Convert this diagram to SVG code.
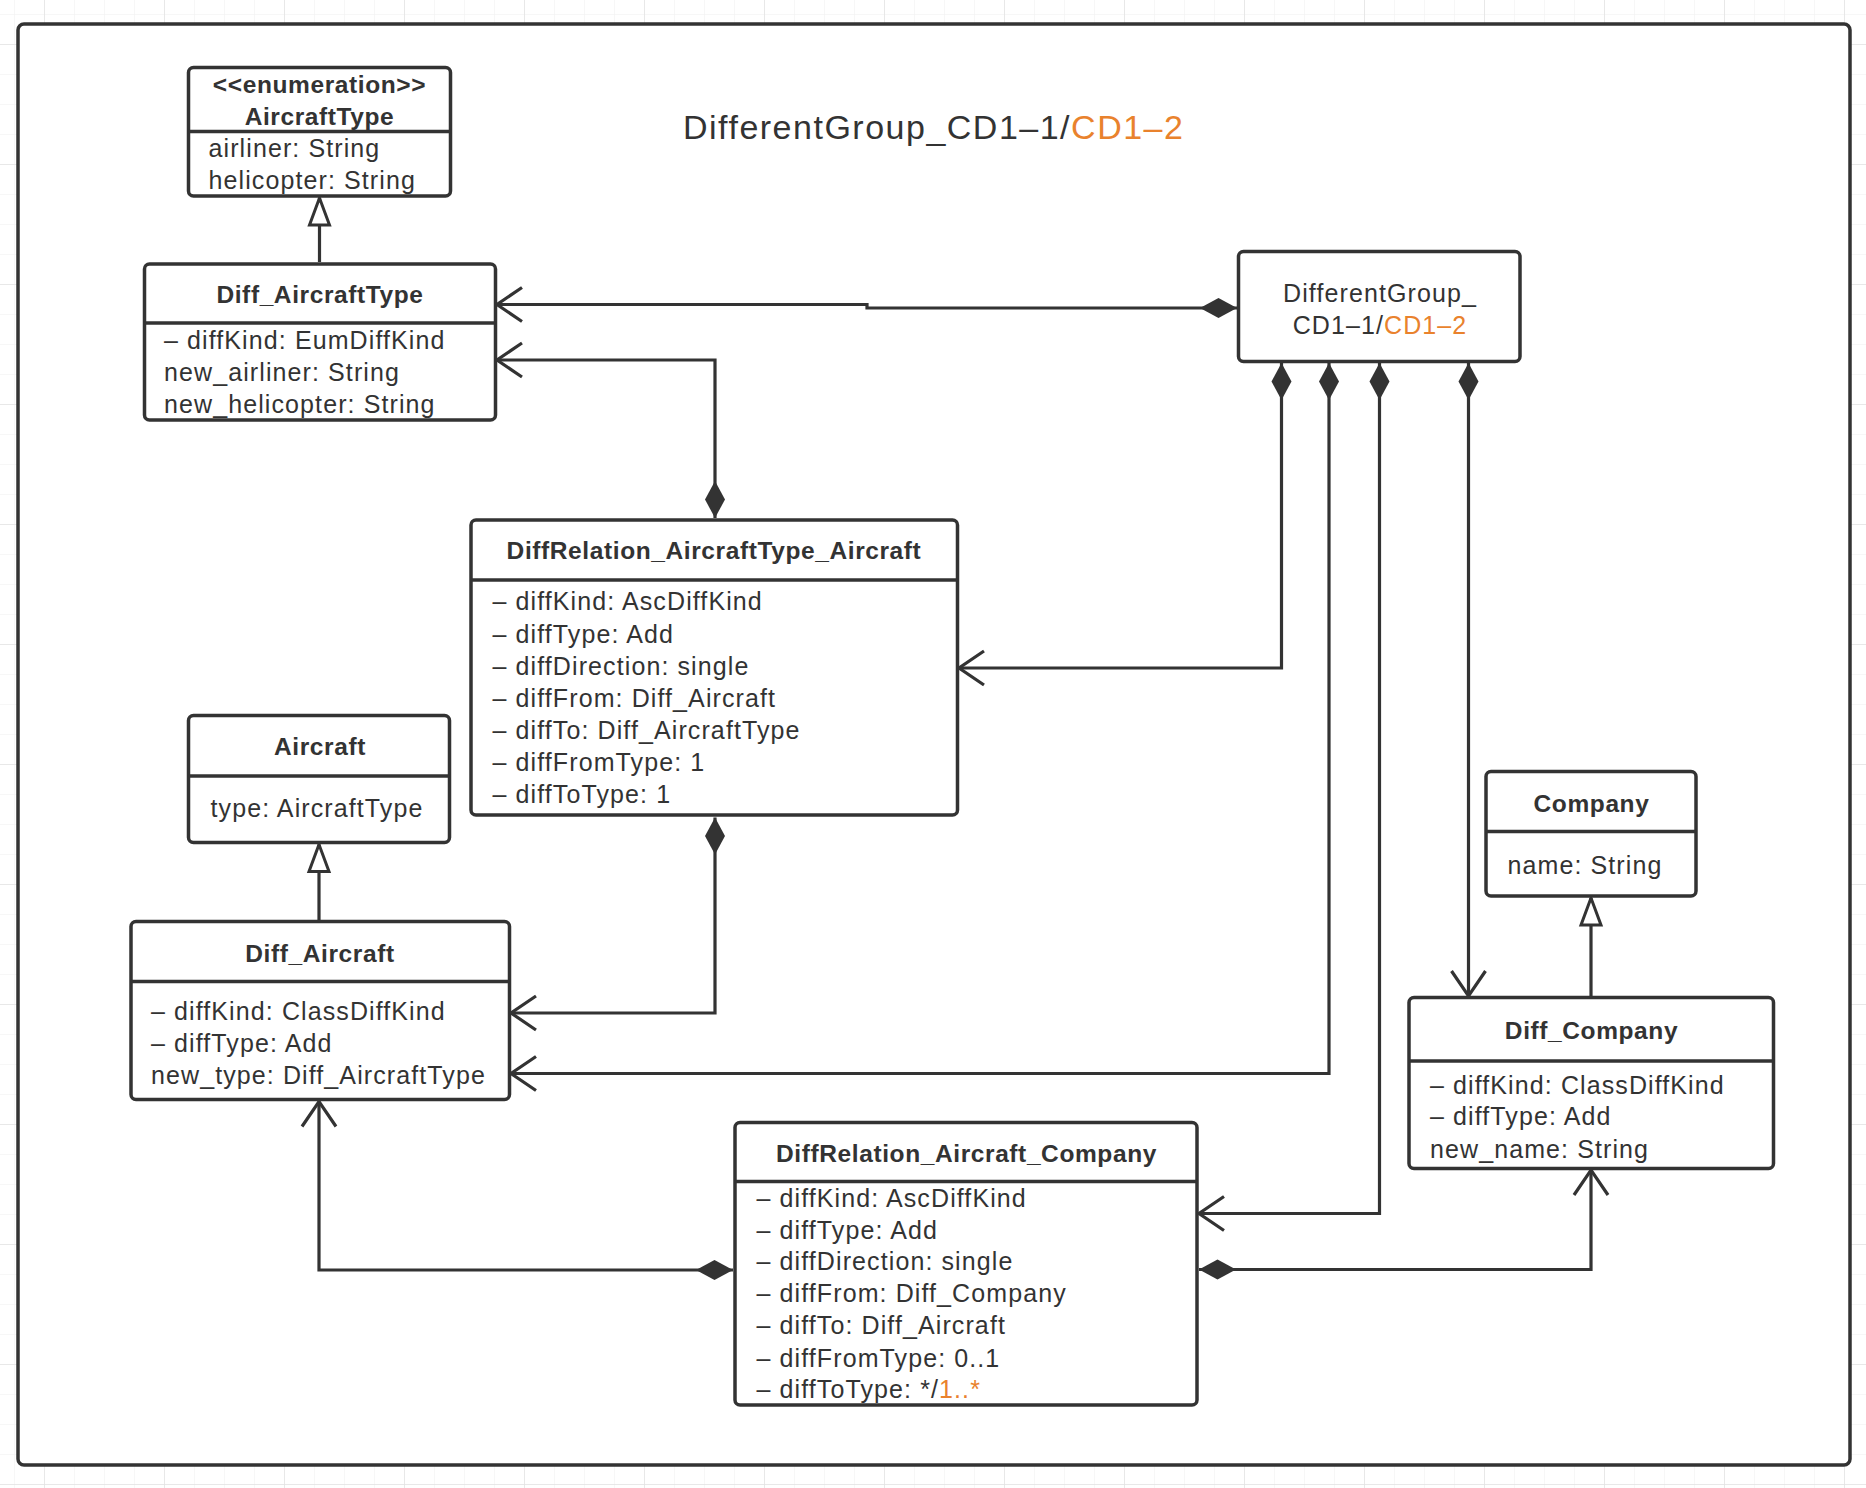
<svg xmlns="http://www.w3.org/2000/svg" width="1866" height="1488" viewBox="0 0 1866 1488">
<defs>
<style>
.box{fill:#fff;stroke:#333;stroke-width:3.5}
.dv{stroke:#333;stroke-width:3.5}
.t{font-family:"Liberation Sans",Arial,sans-serif;font-size:25px;fill:#333;letter-spacing:1.1px}
.b{font-size:24.5px;font-weight:bold;letter-spacing:0.6px;text-anchor:middle}
.c{text-anchor:middle}
.o{fill:#E9822D}
.ln{fill:none;stroke:#333;stroke-width:3.2}
.agg{marker-start:url(#diamond);marker-end:url(#open)}
.gen{marker-end:url(#tri)}
</style>
<pattern id="gridMinor" x="14" y="14" width="30" height="30" patternUnits="userSpaceOnUse">
<path d="M0 0H30M0 0V30" fill="none" stroke="#f0f0f0" stroke-width="1"/>
</pattern>
<pattern id="gridMajor" x="44" y="44" width="120" height="120" patternUnits="userSpaceOnUse">
<path d="M0 0H120M0 0V120" fill="none" stroke="#e4e4e4" stroke-width="1.5"/>
</pattern>
<marker id="open" markerUnits="userSpaceOnUse" viewBox="-30 -22 34 44" refX="0" refY="0" markerWidth="34" markerHeight="44" orient="auto" overflow="visible">
<path d="M-25,-17L0,0L-25,17" fill="none" stroke="#333" stroke-width="3.2"/>
</marker>
<marker id="diamond" markerUnits="userSpaceOnUse" viewBox="-2 -12 42 24" refX="0" refY="0" markerWidth="42" markerHeight="24" orient="auto" overflow="visible">
<path d="M0,0L18.5,10L37,0L18.5,-10Z" fill="#333"/>
</marker>
<marker id="tri" markerUnits="userSpaceOnUse" viewBox="-30 -13 34 26" refX="0" refY="0" markerWidth="34" markerHeight="26" orient="auto" overflow="visible">
<path d="M0,0L-27,-10L-27,10Z" fill="#fff" stroke="#333" stroke-width="3"/>
</marker>
</defs>

<rect width="1866" height="1488" fill="#fff"/>
<rect width="1866" height="1488" fill="url(#gridMinor)"/>
<rect width="1866" height="1488" fill="url(#gridMajor)"/>
<rect x="18" y="24" width="1832" height="1441" rx="6" fill="#fff" stroke="#333" stroke-width="3.5"/>

<text class="t" x="683" y="139" style="font-size:34px;letter-spacing:1.5px">DifferentGroup_CD1–1/<tspan class="o">CD1–2</tspan></text>

<g id="connectors">
<path id="c1" class="ln agg" d="M1237,308H867V304.5H497"/>
<path id="c2" class="ln agg" d="M715,518V360H497"/>
<path id="c3" class="ln agg" d="M1281.5,363V668H959"/>
<path id="c4" class="ln agg" d="M1329,363V1073.5H511"/>
<path id="c5" class="ln agg" d="M1379.5,363V1213.5H1199"/>
<path id="c6" class="ln agg" d="M1468.5,363V996"/>
<path id="c7" class="ln agg" d="M715,817.5V1013H511"/>
<path id="c8" class="ln agg" d="M733,1270H319V1101.5"/>
<path id="c9" class="ln agg" d="M1199,1269.5H1591V1170"/>
<path id="g1" class="ln gen" d="M319.5,262V198"/>
<path id="g2" class="ln gen" d="M319,920V844.5"/>
<path id="g3" class="ln gen" d="M1591,996V898"/>
</g>

<g id="AircraftType">
<rect class="box" x="188.5" y="67.5" width="262" height="128.5" rx="5"/>
<line class="dv" x1="188.5" y1="131.5" x2="450.5" y2="131.5"/>
<text class="t b" x="319.5" y="93">&lt;&lt;enumeration&gt;&gt;</text>
<text class="t b" x="319.5" y="125">AircraftType</text>
<text class="t" x="208.5" y="157">airliner: String</text>
<text class="t" x="208.5" y="189">helicopter: String</text>
</g>

<g id="Diff_AircraftType">
<rect class="box" x="144.5" y="264" width="351" height="156" rx="5"/>
<line class="dv" x1="144.5" y1="323" x2="495.5" y2="323"/>
<text class="t b" x="320" y="303">Diff_AircraftType</text>
<text class="t" x="164" y="349">– diffKind: EumDiffKind</text>
<text class="t" x="164" y="381">new_airliner: String</text>
<text class="t" x="164" y="412.5">new_helicopter: String</text>
</g>

<g id="DifferentGroup">
<rect class="box" x="1238.5" y="251.5" width="281.5" height="110" rx="5"/>
<text class="t c" x="1380" y="301.5">DifferentGroup_</text>
<text class="t c" x="1380" y="333.5">CD1–1/<tspan class="o">CD1–2</tspan></text>
</g>

<g id="DiffRelation_AircraftType_Aircraft">
<rect class="box" x="471" y="520" width="486.5" height="295" rx="5"/>
<line class="dv" x1="471" y1="580" x2="957.5" y2="580"/>
<text class="t b" x="714" y="559">DiffRelation_AircraftType_Aircraft</text>
<text class="t" x="492.5" y="610">– diffKind: AscDiffKind</text>
<text class="t" x="492.5" y="642.5">– diffType: Add</text>
<text class="t" x="492.5" y="674.5">– diffDirection: single</text>
<text class="t" x="492.5" y="706.5">– diffFrom: Diff_Aircraft</text>
<text class="t" x="492.5" y="738.5">– diffTo: Diff_AircraftType</text>
<text class="t" x="492.5" y="770.5">– diffFromType: 1</text>
<text class="t" x="492.5" y="802.5">– diffToType: 1</text>
</g>

<g id="Aircraft">
<rect class="box" x="188.5" y="715.5" width="261" height="127" rx="5"/>
<line class="dv" x1="188.5" y1="776" x2="449.5" y2="776"/>
<text class="t b" x="320" y="755">Aircraft</text>
<text class="t" x="210.5" y="816.5">type: AircraftType</text>
</g>

<g id="Diff_Aircraft">
<rect class="box" x="131" y="921.5" width="378.5" height="178" rx="5"/>
<line class="dv" x1="131" y1="981.5" x2="509.5" y2="981.5"/>
<text class="t b" x="320" y="961.5">Diff_Aircraft</text>
<text class="t" x="151" y="1019.5">– diffKind: ClassDiffKind</text>
<text class="t" x="151" y="1051.5">– diffType: Add</text>
<text class="t" x="151" y="1083.5">new_type: Diff_AircraftType</text>
</g>

<g id="DiffRelation_Aircraft_Company">
<rect class="box" x="735" y="1122.5" width="462" height="282.5" rx="5"/>
<line class="dv" x1="735" y1="1181.5" x2="1197" y2="1181.5"/>
<text class="t b" x="966.5" y="1161.5">DiffRelation_Aircraft_Company</text>
<text class="t" x="756.5" y="1206.5">– diffKind: AscDiffKind</text>
<text class="t" x="756.5" y="1238.5">– diffType: Add</text>
<text class="t" x="756.5" y="1270">– diffDirection: single</text>
<text class="t" x="756.5" y="1302">– diffFrom: Diff_Company</text>
<text class="t" x="756.5" y="1334">– diffTo: Diff_Aircraft</text>
<text class="t" x="756.5" y="1366.5">– diffFromType: 0..1</text>
<text class="t" x="756.5" y="1398">– diffToType: */<tspan class="o">1..*</tspan></text>
</g>

<g id="Company">
<rect class="box" x="1486" y="771.5" width="210" height="124.5" rx="5"/>
<line class="dv" x1="1486" y1="831.5" x2="1696" y2="831.5"/>
<text class="t b" x="1591.5" y="811.5">Company</text>
<text class="t" x="1507.5" y="873.5">name: String</text>
</g>

<g id="Diff_Company">
<rect class="box" x="1409" y="997.5" width="364.5" height="171" rx="5"/>
<line class="dv" x1="1409" y1="1061" x2="1773.5" y2="1061"/>
<text class="t b" x="1591.5" y="1039">Diff_Company</text>
<text class="t" x="1430" y="1093.5">– diffKind: ClassDiffKind</text>
<text class="t" x="1430" y="1125">– diffType: Add</text>
<text class="t" x="1430" y="1157.5">new_name: String</text>
</g>
</svg>
